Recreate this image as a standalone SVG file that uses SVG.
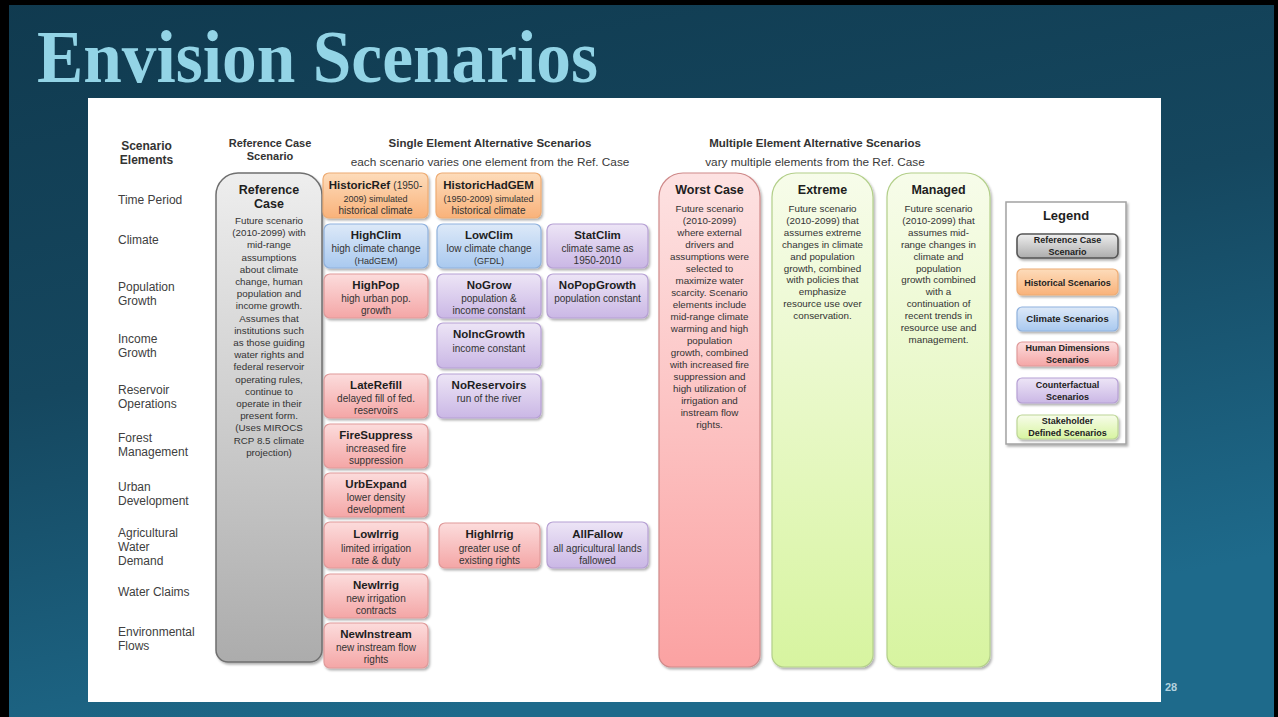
<svg xmlns="http://www.w3.org/2000/svg" width="1278" height="717" viewBox="0 0 1278 717">
<defs>
<linearGradient id="bg" x1="0" y1="0" x2="0.35" y2="1">
<stop offset="0" stop-color="#103a4f"/>
<stop offset="0.5" stop-color="#15475f"/>
<stop offset="1" stop-color="#1e6a8b"/>
</linearGradient>
<linearGradient id="gGray" x1="0" y1="0" x2="0" y2="1"><stop offset="0" stop-color="#eeeeee"/><stop offset="1" stop-color="#acacac"/></linearGradient>
<linearGradient id="gOrange" x1="0" y1="0" x2="0" y2="1"><stop offset="0" stop-color="#fddcbb"/><stop offset="1" stop-color="#f9b27a"/></linearGradient>
<linearGradient id="gBlue" x1="0" y1="0" x2="0" y2="1"><stop offset="0" stop-color="#dde9f8"/><stop offset="1" stop-color="#a9c9ef"/></linearGradient>
<linearGradient id="gRed" x1="0" y1="0" x2="0" y2="1"><stop offset="0" stop-color="#fcdcdc"/><stop offset="1" stop-color="#f4a6a6"/></linearGradient>
<linearGradient id="gPurple" x1="0" y1="0" x2="0" y2="1"><stop offset="0" stop-color="#ede5f6"/><stop offset="1" stop-color="#cab7e5"/></linearGradient>
<linearGradient id="gGreen" x1="0" y1="0" x2="0" y2="1"><stop offset="0" stop-color="#f7fcea"/><stop offset="1" stop-color="#d7f4a0"/></linearGradient>
<linearGradient id="gWorst" x1="0" y1="0" x2="0" y2="1"><stop offset="0" stop-color="#fde2e2"/><stop offset="1" stop-color="#fba2a2"/></linearGradient>
<filter id="sh" x="-10%" y="-10%" width="130%" height="130%"><feDropShadow dx="1.5" dy="2" stdDeviation="1.3" flood-color="#000" flood-opacity="0.3"/></filter>
<style>
text{font-family:"Liberation Sans",Arial,sans-serif;}
.lbl{font-size:12px;fill:#404040;}
.hd{font-size:11.5px;font-weight:bold;fill:#333;text-anchor:middle;}
.sub{font-size:11.8px;fill:#3a3a3a;text-anchor:middle;}
.t{font-size:11.5px;font-weight:bold;fill:#1e1e1e;text-anchor:middle;}
.d{font-size:10px;fill:#333;text-anchor:middle;}
.ds{font-size:9px;fill:#333;text-anchor:middle;}
.bt{font-size:12.5px;font-weight:bold;fill:#1e1e1e;text-anchor:middle;}
.b{font-size:9.8px;fill:#333;text-anchor:middle;}
.lg{font-size:9px;font-weight:bold;fill:#222;text-anchor:middle;}
.box{filter:url(#sh);stroke-width:1.2;}
.or{fill:url(#gOrange);stroke:#eeac74;}
.bl{fill:url(#gBlue);stroke:#8fb1dd;}
.rd{fill:url(#gRed);stroke:#df9a9a;}
.pu{fill:url(#gPurple);stroke:#b6a0d4;}
.gr{fill:url(#gGreen);stroke:#bcd596;}
.gy{fill:url(#gGray);stroke:#6f6f6f;}
</style>
</defs>

<rect x="0" y="0" width="1278" height="717" fill="url(#bg)"/>
<rect x="0" y="0" width="1278" height="5" fill="#000"/>
<rect x="0" y="0" width="9" height="717" fill="#000"/>
<rect x="1274" y="0" width="4" height="717" fill="#000"/>

<text x="37" y="82" font-weight="bold" font-size="74" fill="#93d4e6" textLength="561" lengthAdjust="spacingAndGlyphs" style="font-family:'Liberation Serif',serif">Envision Scenarios</text>

<rect x="88" y="98" width="1073" height="604" fill="#ffffff"/>

<g id="headers">
<text class="hd" x="146.5" y="150" style="font-size:12px">Scenario</text>
<text class="hd" x="146.5" y="164" style="font-size:12px">Elements</text>
<text class="hd" x="270" y="147" style="font-size:11px">Reference Case</text>
<text class="hd" x="270" y="160" style="font-size:11px">Scenario</text>
<text class="hd" x="490" y="147">Single Element Alternative Scenarios</text>
<text class="sub" x="490" y="166">each scenario varies one element from the Ref. Case</text>
<text class="hd" x="815" y="147">Multiple Element Alternative Scenarios</text>
<text class="sub" x="815" y="166">vary multiple elements from the Ref. Case</text>
</g>

<g id="row-labels">
<text class="lbl" x="118" y="204">Time Period</text>
<text class="lbl" x="118" y="244">Climate</text>
<text class="lbl" x="118" y="291">Population</text>
<text class="lbl" x="118" y="305">Growth</text>
<text class="lbl" x="118" y="343">Income</text>
<text class="lbl" x="118" y="357">Growth</text>
<text class="lbl" x="118" y="394">Reservoir</text>
<text class="lbl" x="118" y="408">Operations</text>
<text class="lbl" x="118" y="442">Forest</text>
<text class="lbl" x="118" y="456">Management</text>
<text class="lbl" x="118" y="491">Urban</text>
<text class="lbl" x="118" y="505">Development</text>
<text class="lbl" x="118" y="537">Agricultural</text>
<text class="lbl" x="118" y="551">Water</text>
<text class="lbl" x="118" y="565">Demand</text>
<text class="lbl" x="118" y="596">Water Claims</text>
<text class="lbl" x="118" y="636">Environmental</text>
<text class="lbl" x="118" y="650">Flows</text>
</g>

<g id="reference-case">
<path class="box gy" style="stroke-width:1.5" d="M216,195 A22,22 0 0 1 238,173 H300 A22,22 0 0 1 322,195 V650 A12,12 0 0 1 310,662 H228 A12,12 0 0 1 216,650 Z"/>
<text class="bt" x="269" y="194">Reference</text>
<text class="bt" x="269" y="208">Case</text>
<text class="b" x="269" y="224">Future scenario</text>
<text class="b" x="269" y="236.2">(2010-2099) with</text>
<text class="b" x="269" y="248.4">mid-range</text>
<text class="b" x="269" y="260.6">assumptions</text>
<text class="b" x="269" y="272.8">about climate</text>
<text class="b" x="269" y="285">change, human</text>
<text class="b" x="269" y="297.2">population and</text>
<text class="b" x="269" y="309.4">income growth.</text>
<text class="b" x="269" y="321.6">Assumes that</text>
<text class="b" x="269" y="333.8">institutions such</text>
<text class="b" x="269" y="346">as those guiding</text>
<text class="b" x="269" y="358.2">water rights and</text>
<text class="b" x="269" y="370.4">federal reservoir</text>
<text class="b" x="269" y="382.6">operating rules,</text>
<text class="b" x="269" y="394.8">continue to</text>
<text class="b" x="269" y="407">operate in their</text>
<text class="b" x="269" y="419.2">present form.</text>
<text class="b" x="269" y="431.4">(Uses MIROCS</text>
<text class="b" x="269" y="443.6">RCP 8.5 climate</text>
<text class="b" x="269" y="455.8">projection)</text>
</g>

<g id="historicref">
<rect class="box or" x="323" y="173" width="105" height="45" rx="6"/>
<text class="t" x="375.5" y="189">HistoricRef <tspan style="font-size:10px;font-weight:normal;fill:#333">(1950-</tspan></text>
<text class="ds" x="375.5" y="201.5">2009) simulated</text>
<text class="d" x="375.5" y="214">historical climate</text>
</g>
<g id="historichadgem">
<rect class="box or" x="436" y="173" width="105" height="45" rx="6"/>
<text class="t" x="488.5" y="189">HistoricHadGEM</text>
<text class="ds" x="488.5" y="201.5">(1950-2009) simulated</text>
<text class="d" x="488.5" y="214">historical climate</text>
</g>
<g id="highclim">
<rect class="box bl" x="324" y="224" width="104" height="44" rx="6"/>
<text class="t" x="376" y="239">HighClim</text>
<text class="d" x="376" y="252">high climate change</text>
<text class="ds" x="376" y="264">(HadGEM)</text>
</g>
<g id="lowclim">
<rect class="box bl" x="437" y="224" width="104" height="44" rx="6"/>
<text class="t" x="489" y="239">LowClim</text>
<text class="d" x="489" y="252">low climate change</text>
<text class="ds" x="489" y="264">(GFDL)</text>
</g>
<g id="statclim">
<rect class="box pu" x="547" y="224" width="101" height="44" rx="6"/>
<text class="t" x="597.5" y="239">StatClim</text>
<text class="d" x="597.5" y="252">climate same as</text>
<text class="d" x="597.5" y="264">1950-2010</text>
</g>
<g id="highpop">
<rect class="box rd" x="324" y="274" width="104" height="44" rx="6"/>
<text class="t" x="376" y="289">HighPop</text>
<text class="d" x="376" y="302">high urban pop.</text>
<text class="d" x="376" y="314">growth</text>
</g>
<g id="nogrow">
<rect class="box pu" x="437" y="274" width="104" height="44" rx="6"/>
<text class="t" x="489" y="289">NoGrow</text>
<text class="d" x="489" y="302">population &amp;</text>
<text class="d" x="489" y="314">income constant</text>
</g>
<g id="nopopgrowth">
<rect class="box pu" x="547" y="274" width="101" height="44" rx="6"/>
<text class="t" x="597.5" y="289">NoPopGrowth</text>
<text class="d" x="597.5" y="302">population constant</text>
</g>
<g id="noincgrowth">
<rect class="box pu" x="437" y="323" width="104" height="45" rx="6"/>
<text class="t" x="489" y="338">NoIncGrowth</text>
<text class="d" x="489" y="351.5">income constant</text>
</g>
<g id="laterefill">
<rect class="box rd" x="324" y="374" width="104" height="44" rx="6"/>
<text class="t" x="376" y="389">LateRefill</text>
<text class="d" x="376" y="401.5">delayed fill of fed.</text>
<text class="d" x="376" y="414">reservoirs</text>
</g>
<g id="noreservoirs">
<rect class="box pu" x="437" y="374" width="104" height="44" rx="6"/>
<text class="t" x="489" y="389">NoReservoirs</text>
<text class="d" x="489" y="401.5">run of the river</text>
</g>
<g id="firesuppress">
<rect class="box rd" x="324" y="424" width="104" height="44" rx="6"/>
<text class="t" x="376" y="438.5">FireSuppress</text>
<text class="d" x="376" y="451.5">increased fire</text>
<text class="d" x="376" y="463.5">suppression</text>
</g>
<g id="urbexpand">
<rect class="box rd" x="324" y="473" width="104" height="44" rx="6"/>
<text class="t" x="376" y="488">UrbExpand</text>
<text class="d" x="376" y="500.5">lower density</text>
<text class="d" x="376" y="513">development</text>
</g>
<g id="lowirrig">
<rect class="box rd" x="324" y="522" width="104" height="46" rx="6"/>
<text class="t" x="376" y="538">LowIrrig</text>
<text class="d" x="376" y="552">limited irrigation</text>
<text class="d" x="376" y="563.5">rate &amp; duty</text>
</g>
<g id="highirrig">
<rect class="box rd" x="439" y="523" width="101" height="45" rx="6"/>
<text class="t" x="489.5" y="538">HighIrrig</text>
<text class="d" x="489.5" y="552">greater use of</text>
<text class="d" x="489.5" y="563.5">existing rights</text>
</g>
<g id="allfallow">
<rect class="box pu" x="547" y="522" width="101" height="46" rx="6"/>
<text class="t" x="597.5" y="538">AllFallow</text>
<text class="d" x="597.5" y="552">all agricultural lands</text>
<text class="d" x="597.5" y="563.5">fallowed</text>
</g>
<g id="newirrig">
<rect class="box rd" x="324" y="574" width="104" height="44" rx="6"/>
<text class="t" x="376" y="588.5">NewIrrig</text>
<text class="d" x="376" y="601.5">new irrigation</text>
<text class="d" x="376" y="613.5">contracts</text>
</g>
<g id="newinstream">
<rect class="box rd" x="324" y="623" width="104" height="45" rx="6"/>
<text class="t" x="376" y="638">NewInstream</text>
<text class="d" x="376" y="650.5">new instream flow</text>
<text class="d" x="376" y="663">rights</text>
</g>

<g id="worst-case">
<path class="box" fill="url(#gWorst)" stroke="#cf8a8a" stroke-width="1.3" d="M659,197 A24,24 0 0 1 683,173 H736 A24,24 0 0 1 760,197 V655 A12,12 0 0 1 748,667 H671 A12,12 0 0 1 659,655 Z"/>
<text class="bt" x="709.5" y="193.5">Worst Case</text>
<text class="b" x="709.5" y="212">Future scenario</text>
<text class="b" x="709.5" y="224">(2010-2099)</text>
<text class="b" x="709.5" y="236">where external</text>
<text class="b" x="709.5" y="248">drivers and</text>
<text class="b" x="709.5" y="260">assumptions were</text>
<text class="b" x="709.5" y="272">selected to</text>
<text class="b" x="709.5" y="284">maximize water</text>
<text class="b" x="709.5" y="296">scarcity.  Scenario</text>
<text class="b" x="709.5" y="308">elements include</text>
<text class="b" x="709.5" y="320">mid-range climate</text>
<text class="b" x="709.5" y="332">warming and high</text>
<text class="b" x="709.5" y="344">population</text>
<text class="b" x="709.5" y="356">growth, combined</text>
<text class="b" x="709.5" y="368">with increased fire</text>
<text class="b" x="709.5" y="380">suppression and</text>
<text class="b" x="709.5" y="392">high utilization of</text>
<text class="b" x="709.5" y="404">irrigation and</text>
<text class="b" x="709.5" y="416">instream flow</text>
<text class="b" x="709.5" y="428">rights.</text>
</g>

<g id="extreme">
<path class="box" fill="url(#gGreen)" stroke="#b3cf8a" stroke-width="1.3" d="M772,197 A24,24 0 0 1 796,173 H849 A24,24 0 0 1 873,197 V655 A12,12 0 0 1 861,667 H784 A12,12 0 0 1 772,655 Z"/>
<text class="bt" x="822.5" y="193.5">Extreme</text>
<text class="b" x="822.5" y="212">Future scenario</text>
<text class="b" x="822.5" y="223.9">(2010-2099) that</text>
<text class="b" x="822.5" y="235.8">assumes extreme</text>
<text class="b" x="822.5" y="247.7">changes in climate</text>
<text class="b" x="822.5" y="259.6">and population</text>
<text class="b" x="822.5" y="271.5">growth, combined</text>
<text class="b" x="822.5" y="283.4">with policies that</text>
<text class="b" x="822.5" y="295.3">emphasize</text>
<text class="b" x="822.5" y="307.2">resource use over</text>
<text class="b" x="822.5" y="319.1">conservation.</text>
</g>

<g id="managed">
<path class="box" fill="url(#gGreen)" stroke="#b3cf8a" stroke-width="1.3" d="M887,197 A24,24 0 0 1 911,173 H966 A24,24 0 0 1 990,197 V655 A12,12 0 0 1 978,667 H899 A12,12 0 0 1 887,655 Z"/>
<text class="bt" x="938.5" y="193.5">Managed</text>
<text class="b" x="938.5" y="212">Future scenario</text>
<text class="b" x="938.5" y="223.9">(2010-2099) that</text>
<text class="b" x="938.5" y="235.8">assumes mid-</text>
<text class="b" x="938.5" y="247.7">range changes in</text>
<text class="b" x="938.5" y="259.6">climate and</text>
<text class="b" x="938.5" y="271.5">population</text>
<text class="b" x="938.5" y="283.4">growth combined</text>
<text class="b" x="938.5" y="295.3">with a</text>
<text class="b" x="938.5" y="307.2">continuation of</text>
<text class="b" x="938.5" y="319.1">recent trends in</text>
<text class="b" x="938.5" y="331">resource use and</text>
<text class="b" x="938.5" y="342.9">management.</text>
</g>

<g id="legend">
<rect x="1006" y="202" width="120" height="242" fill="#ffffff" stroke="#a3a3a3" stroke-width="1.5" filter="url(#sh)"/>
<text class="bt" x="1066" y="219.5" style="font-size:13px">Legend</text>
<rect class="box gy" style="stroke-width:1.6;stroke:#555" x="1017" y="234" width="101" height="24" rx="5"/>
<text class="lg" x="1067.5" y="243">Reference Case</text>
<text class="lg" x="1067.5" y="254.5">Scenario</text>
<rect class="box or" x="1017" y="269" width="101" height="26" rx="5"/>
<text class="lg" x="1067.5" y="285.5">Historical Scenarios</text>
<rect class="box bl" x="1017" y="307" width="101" height="24" rx="5"/>
<text class="lg" x="1067.5" y="322" style="font-size:9.5px">Climate Scenarios</text>
<rect class="box rd" x="1017" y="342" width="101" height="24" rx="5"/>
<text class="lg" x="1067.5" y="350.5">Human Dimensions</text>
<text class="lg" x="1067.5" y="362.5">Scenarios</text>
<rect class="box pu" x="1017" y="378" width="101" height="25" rx="5"/>
<text class="lg" x="1067.5" y="387.5">Counterfactual</text>
<text class="lg" x="1067.5" y="399.5">Scenarios</text>
<rect class="box gr" x="1017" y="415" width="101" height="24" rx="5"/>
<text class="lg" x="1067.5" y="424">Stakeholder</text>
<text class="lg" x="1067.5" y="436">Defined Scenarios</text>
</g>

<g id="connectors"/>

<text x="1165" y="691" font-size="11" font-weight="bold" fill="#b3d2df">28</text>
</svg>
